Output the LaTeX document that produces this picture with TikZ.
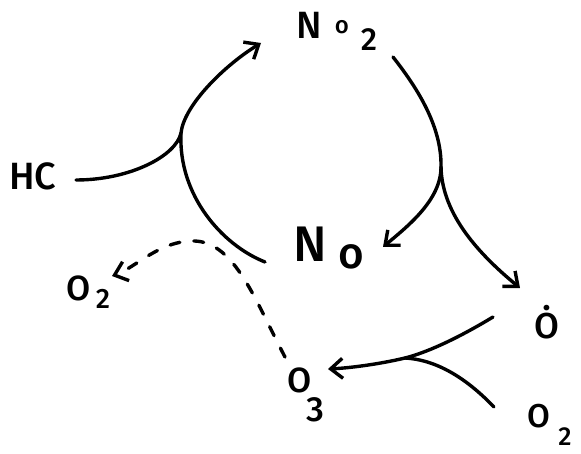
\documentclass[tikz,border=0pt]{standalone}
\usepackage{fontspec}
\setmainfont{Fira Sans}[UprightFont={* Medium}]
\usetikzlibrary{arrows.meta}
\begin{document}
\begin{tikzpicture}[x=1pt,y=-1pt,
  stroke/.style={line width=3.4pt, line cap=round},
  arr/.style={stroke, -{Straight Barb[length=12pt,width=20pt,line width=3.4pt]}},
  lbl/.style={inner sep=0pt, font=\fontsize{#1}{#1}\selectfont},
]
\useasboundingbox (0,0) rectangle (581,454);
% labels
\node[lbl=38] (hc) at (33,176) {HC};
\node[lbl=38] (topN) at (309,25) {N};
\node[lbl=24] (topo) at (342,27) {o};
\node[lbl=32] (top2) at (369,40) {2};
\node[lbl=50] (midN) at (310,244) {N};
\node[lbl=44] (mido) at (351,257) {o};
\node[lbl=36,anchor=base] (orad) at (547,338) {\.{O}};
\node[lbl=35] (o2aO) at (79,288) {O};
\node[lbl=28] (o2a2) at (103,299) {2};
\node[lbl=35] (o3O) at (300,380) {O};
\node[lbl=35] (o33) at (315,410) {3};
\node[lbl=33] (o2bO) at (539,416) {O};
\node[lbl=26] (o2b2) at (565,437) {2};
% connector ends
\coordinate (hcE) at (76,180);
\coordinate (j1) at (181,133);
\coordinate (noW) at (265,262);
\coordinate (no2tip) at (261,43);
\coordinate (no2S) at (393,57);
\coordinate (j2) at (441,167);
\coordinate (notip) at (383,247);
\coordinate (otip) at (520,288);
\coordinate (oW) at (493,317);
\coordinate (j3) at (405,358);
\coordinate (o3tip) at (328,369);
\coordinate (o2bW) at (494,407);
\coordinate (o3N) at (285,357);
\coordinate (dtop) at (195,241);
\coordinate (o2tip) at (112,276);
% connectors
\draw[stroke] (hcE) .. controls (130,180) and (176,156) .. (j1);
\draw[arr] (noW) .. controls (222,245) and (178,195) .. (j1)
  .. controls (184,105) and (225,65) .. (no2tip);
\draw[stroke] (no2S) .. controls (415,85) and (442,125) .. (j2);
\draw[arr] (j2) .. controls (441,200) and (408,226) .. (notip);
\draw[arr] (j2) .. controls (442,215) and (480,255) .. (otip);
\draw[arr] (oW) .. controls (455,340) and (425,353) .. (j3)
  .. controls (380,364) and (350,368) .. (o3tip);
\draw[stroke] (o2bW) .. controls (470,382) and (440,360) .. (j3);
\draw[arr, dash pattern=on 10pt off 14pt] (o3N) .. controls (255,300) and (235,243) .. (dtop)
  .. controls (160,240) and (135,268) .. (o2tip);
\end{tikzpicture}
\end{document}
